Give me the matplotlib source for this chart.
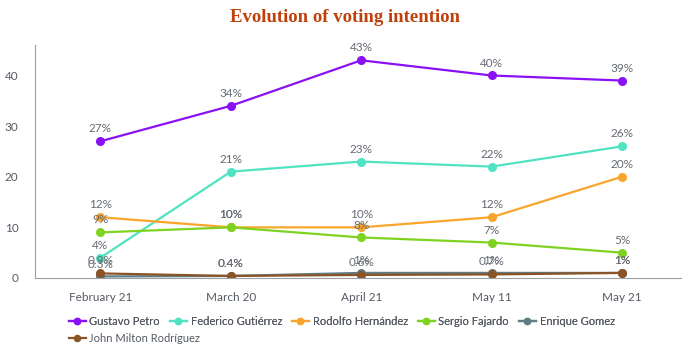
import matplotlib
matplotlib.use("Agg")
import matplotlib.pyplot as plt

plt.rcParams['font.family'] = ['Lato', 'DejaVu Sans']

dates = ['February 21', 'March 20', 'April 21', 'May 11', 'May 21']
candidates = ['Gustavo Petro', 'Federico Gutiérrez', 'Rodolfo Hernández',
              'Sergio Fajardo', 'Enrique Gomez', 'John Milton Rodríguez']
petro = [27, 34, 43, 40, 39]
gutierrez = [4, 21, 23, 22, 26]
hernandez = [12, 10, 10, 12, 20]
fajardo = [9, 10, 8, 7, 5]
gomez = [0.3, 0.4, 1, 1, 1]
rodriguez = [0.9, 0.4, 0.6, 0.7, 1]
colors = ['#8a11f5', '#4fe3c2', '#f9a52b', '#7ed321', '#5f7d85', '#8b5426']

series = [petro, gutierrez, hernandez, fajardo, gomez, rodriguez]

fig = plt.figure(figsize=(6.89, 3.61), dpi=100)
ax = fig.add_axes([0.051, 0.23, 0.937, 0.645])

x = list(range(len(dates)))
handles = []
for name, vals, c in zip(candidates, series, colors):
    h, = ax.plot(x, vals, color=c, lw=1.6, marker='o', ms=5.5, label=name)
    handles.append(h)
    for xi, v in zip(x, vals):
        ax.annotate(f'{v:g}%', (xi, v), xytext=(0, 5), textcoords='offset points',
                    ha='center', va='bottom', fontsize=8.5, color='#666a73')

ax.set_xlim(-0.5, 4.45)
ax.set_ylim(0, 46)
ax.set_yticks([0, 10, 20, 30, 40])
ax.set_xticks(x)
ax.set_xticklabels(dates)
ax.tick_params(axis='both', length=0, labelsize=8.5, colors='#555a63')
ax.tick_params(axis='x', pad=10)
ax.tick_params(axis='y', pad=12)
for s in ['top', 'right']:
    ax.spines[s].set_visible(False)
ax.spines['left'].set_color('#9aa0a6')
ax.spines['bottom'].set_color('#9aa0a6')

fig.suptitle('Evolution of voting intention', y=0.975, fontsize=13.5,
             fontweight='bold', color='#c0400c', family='Liberation Serif')

leg_kw = dict(frameon=False, fontsize=8, labelcolor='#555a63', handlelength=1.5,
              handletextpad=0.35, columnspacing=0.9, markerscale=0.8,
              borderaxespad=0, borderpad=0)
leg1 = fig.legend(handles[:5], candidates[:5], loc='upper left',
                  bbox_to_anchor=(0.1, 0.125), ncol=5, **leg_kw)
fig.add_artist(leg1)
fig.legend(handles[5:], candidates[5:], loc='upper left',
           bbox_to_anchor=(0.1, 0.078), ncol=1, **leg_kw)

fig.savefig('out.png', dpi=100)
